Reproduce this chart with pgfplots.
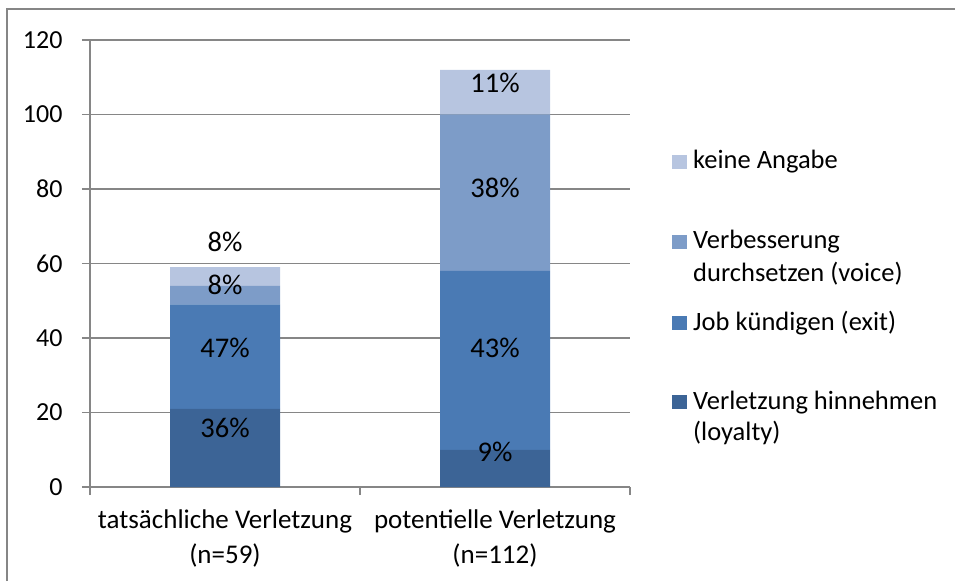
\documentclass[border=0pt]{standalone}
\usepackage{fontspec}
\setmainfont{Carlito}
\usepackage{pgfplots}
\pgfplotsset{compat=1.18}
\definecolor{cLoy}{RGB}{60,100,150}
\definecolor{cExit}{RGB}{74,122,180}
\definecolor{cVoice}{RGB}{125,156,200}
\definecolor{cNone}{RGB}{183,197,224}
\definecolor{cGrid}{RGB}{134,134,134}
\tikzset{dl/.style={font=\fontsize{28.5}{34}\selectfont, inner sep=0pt}}
\begin{document}
\begin{tikzpicture}[x=1pt,y=1pt]
\useasboundingbox (-90,-94) rectangle (865,487);
\draw[cGrid, line width=1.5pt] (-83,-94) -- (-83,478) -- (865,478);
\begin{axis}[
  at={(0,0)}, anchor=south west,
  scale only axis, width=540pt, height=447pt,
  ybar stacked, bar width=110pt,
  xmin=-0.5, xmax=1.5, ymin=0, ymax=120,
  axis x line*=bottom, axis y line*=left,
  axis line style={cGrid, line width=1.5pt, -},
  tick style={cGrid, line width=1.5pt},
  tick align=outside, major tick length=8pt,
  xtick={-0.5,0.5,1.5}, xticklabels={},
  extra x ticks={0,1},
  extra x tick labels={{tatsächliche Verletzung\\(n=59)}, {potentielle Verletzung\\(n=112)}},
  extra x tick style={major tick length=0pt, xticklabel style={align=center, yshift=-19pt}},
  ytick={0,20,...,120},
  ymajorgrids, grid style={cGrid, line width=1.5pt},
  /pgf/number format/assume math mode=true,
  yticklabel style={font=\fontsize{26}{32}\selectfont, xshift=-16pt},
  xticklabel style={font=\fontsize{27}{35}\selectfont},
  clip=false,
]
\addplot[fill=cLoy, draw=none] coordinates {(0,21) (1,10)};
\addplot[fill=cExit, draw=none] coordinates {(0,28) (1,48)};
\addplot[fill=cVoice, draw=none] coordinates {(0,5) (1,42)};
\addplot[fill=cNone, draw=none] coordinates {(0,5) (1,12)};
\coordinate (l1) at (axis cs:0,15.8);
\coordinate (l2) at (axis cs:0,37.3);
\coordinate (l3) at (axis cs:0,54.2);
\coordinate (l4) at (axis cs:0,65.8);
\coordinate (r1) at (axis cs:1,9.4);
\coordinate (r2) at (axis cs:1,37.3);
\coordinate (r3) at (axis cs:1,80.3);
\coordinate (r4) at (axis cs:1,108.5);
\end{axis}
\node[dl] at (l1) {36\%};
\node[dl] at (l2) {47\%};
\node[dl] at (l3) {8\%};
\node[dl] at (l4) {8\%};
\node[dl] at (r1) {9\%};
\node[dl] at (r2) {43\%};
\node[dl] at (r3) {38\%};
\node[dl] at (r4) {11\%};
\begin{scope}[every node/.style={font=\fontsize{26.5}{32}\selectfont, inner sep=0pt, anchor=base west}]
\fill[cNone] (582,318) rectangle (597,332);
\node at (603,318) {keine Angabe};
\fill[cVoice] (582,238) rectangle (597,252);
\node at (603,238) {Verbesserung};
\node at (603,205) {durchsetzen (voice)};
\fill[cExit] (582,157) rectangle (597,171);
\node at (603,157) {Job kündigen (exit)};
\fill[cLoy] (582,78) rectangle (597,92);
\node at (603,78) {Verletzung hinnehmen};
\node at (603,47) {(loyalty)};
\end{scope}
\end{tikzpicture}
\end{document}
